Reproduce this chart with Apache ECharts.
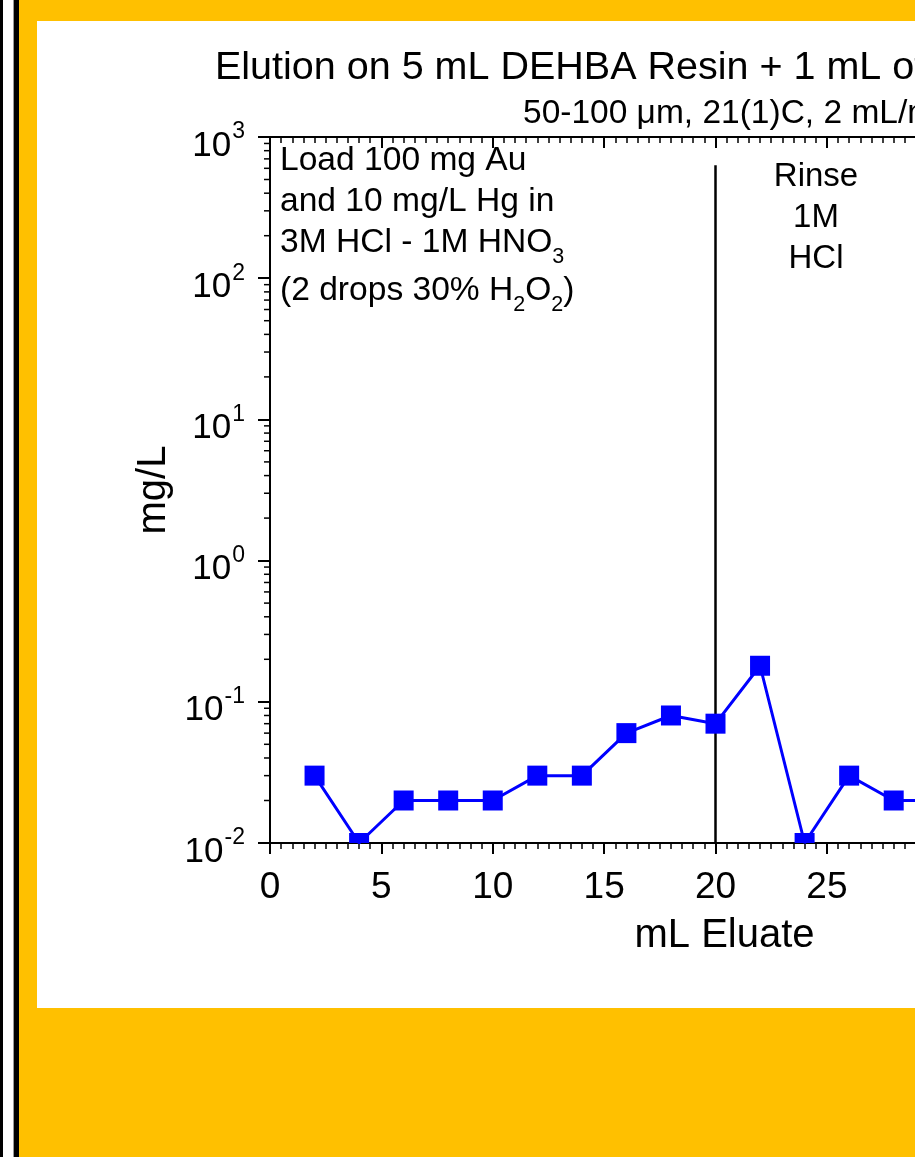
<!DOCTYPE html>
<html>
<head>
<meta charset="utf-8">
<script src="https://cdn.jsdelivr.net/npm/echarts@6/dist/echarts.min.js"></script>
<style>
html,body{margin:0;padding:0;overflow:hidden;background:#FFC000;width:915px;height:1157px;}
#c{width:1400px;height:1157px;}
</style>
</head>
<body>
<div id="c"></div>
<script>
// ---- data ----
const mlEluate = [2, 4, 6, 8, 10, 12, 14, 16, 18, 20, 22, 24, 26, 28, 30];
const hgMgL    = [0.03, 0.01, 0.02, 0.02, 0.02, 0.03, 0.03, 0.06, 0.08, 0.07, 0.18, 0.01, 0.03, 0.02, 0.02];
const dividerX = [20, 20];
const dividerY = [0.01, 630];
const titleText = 'Elution on 5 mL DEHBA Resin + 1 mL of Prefilter Resin';
const subtitleText = '50-100 \u03bcm, 21(1)C, 2 mL/min';
const xName = 'mL Eluate';
const yName = 'mg/L';
const loadLines = [
  '{n|Load 100 mg Au}',
  '{n|and 10 mg/L Hg in}',
  '{n|3M HCl - 1M HNO}{s|3}',
  '{n|(2 drops 30% H}{s|2}{n|O}{s|2}{n|)}'
];
const rinseText = 'Rinse\n1M\nHCl';

// minor tick values for log axis (2..9 per decade)
const minorVals = [];
for (let d = -2; d < 3; d++) for (let k = 2; k <= 9; k++) minorVals.push(k * Math.pow(10, d));

const FONT = "'Liberation Sans', Arial, sans-serif";
const chart = echarts.init(document.getElementById('c'), null, {renderer: 'canvas'});

const richSub = {
  n: {fontSize: 33.6, fontFamily: FONT, color: '#000', lineHeight: 36, verticalAlign: 'top'},
  s: {fontSize: 21.5, fontFamily: FONT, color: '#000', lineHeight: 21, padding: [20, 0, 0, 0], verticalAlign: 'top'}
};
const loadY = [162, 203, 244, 292];

const option = {
  backgroundColor: '#FFC000',
  animation: false,
  title: [
    {text: titleText, left: 210, top: 43,
     textStyle: {fontFamily: FONT, fontSize: 39.5, fontWeight: 'normal', color: '#000'}},
    {text: subtitleText, left: 518, top: 92,
     textStyle: {fontFamily: FONT, fontSize: 33.5, fontWeight: 'normal', color: '#000'}}
  ],
  grid: {left: 270, top: 137, width: 891, height: 706, containLabel: false},
  xAxis: [
    {type: 'value', min: 0, max: 40, interval: 5, position: 'bottom',
     name: xName, nameLocation: 'middle', nameGap: 73,
     nameTextStyle: {fontFamily: FONT, fontSize: 40, color: '#000', padding: [0, 0, 0, 18]},
     axisLine: {show: true, onZero: false, lineStyle: {color: '#000', width: 2}},
     axisTick: {show: true, inside: false, length: 11, lineStyle: {color: '#000', width: 2}},
     minorTick: {show: true, splitNumber: 10, length: 6, lineStyle: {color: '#000', width: 1.5}},
     axisLabel: {fontFamily: FONT, fontSize: 37, color: '#000', margin: 26},
     splitLine: {show: false}},
    {type: 'value', min: 0, max: 40, interval: 5, position: 'top',
     axisLine: {show: true, onZero: false, lineStyle: {color: '#000', width: 2}},
     axisTick: {show: true, inside: true, length: 11, lineStyle: {color: '#000', width: 2}},
     minorTick: {show: true, splitNumber: 10, length: 6, lineStyle: {color: '#000', width: 1.5}},
     axisLabel: {show: false}, splitLine: {show: false}}
  ],
  yAxis: [
    {type: 'log', logBase: 10, min: 0.01, max: 1000, position: 'left',
     name: yName, nameLocation: 'middle', nameGap: 94, nameRotate: 90,
     nameTextStyle: {fontFamily: FONT, fontSize: 40, color: '#000'},
     axisLine: {show: true, onZero: false, lineStyle: {color: '#000', width: 2}},
     axisTick: {show: true, inside: false, length: 12, lineStyle: {color: '#000', width: 2}},
     splitLine: {show: false},
     axisLabel: {margin: 25,
       formatter: function (v) {
         const e = Math.round(Math.log10(v));
         return '{b|10}{s|' + e + '}';
       },
       rich: {
         b: {fontSize: 35, fontFamily: FONT, color: '#000', lineHeight: 35, padding: [9, 0, 0, 0], verticalAlign: 'top'},
         s: {fontSize: 23, fontFamily: FONT, color: '#000', lineHeight: 23, padding: [1, 0, 0, 1], verticalAlign: 'top'}
       }}}
  ],
  series: [
    {type: 'custom', name: 'yMinor', coordinateSystem: 'cartesian2d', clip: false, silent: true,
     data: minorVals.map(v => [0, v]),
     renderItem: function (params, api) {
       const p = api.coord([api.value(0), api.value(1)]);
       return {type: 'line', shape: {x1: p[0] - 6, y1: p[1], x2: p[0], y2: p[1]},
               style: {stroke: '#000', lineWidth: 1.5}};
     }},
    {type: 'line', name: 'divider', data: dividerX.map((x, i) => [x, dividerY[i]]),
     symbol: 'none', silent: true, clip: true,
     lineStyle: {color: '#000', width: 2.5}},
    {type: 'line', name: 'Hg', data: mlEluate.map((x, i) => [x, hgMgL[i]]),
     symbol: 'none', clip: true, lineStyle: {color: '#0000FF', width: 3}},
    {type: 'custom', name: 'HgMarkers', coordinateSystem: 'cartesian2d', clip: true,
     data: mlEluate.map((x, i) => [x, hgMgL[i]]),
     renderItem: function (params, api) {
       const p = api.coord([api.value(0), api.value(1)]);
       const s = 20;
       return {type: 'rect', shape: {x: p[0] - s / 2, y: p[1] - s / 2, width: s, height: s},
               style: {fill: '#0000FF'}};
     }, z: 5}
  ],
  graphic: [
    {type: 'rect', z: -100, silent: true, shape: {x: 37, y: 21, width: 1400, height: 987}, style: {fill: '#FFFFFF'}},
    {type: 'rect', z: -100, silent: true, shape: {x: 0, y: 0, width: 3, height: 1157}, style: {fill: '#000'}},
    {type: 'rect', z: -100, silent: true, shape: {x: 3, y: 0, width: 10, height: 1157}, style: {fill: '#FFFFFF'}},
    {type: 'rect', z: -100, silent: true, shape: {x: 13, y: 0, width: 1, height: 1157}, style: {fill: '#999999'}},
    {type: 'rect', z: -100, silent: true, shape: {x: 14, y: 0, width: 5, height: 1157}, style: {fill: '#000'}}
  ].concat(loadLines.map((t, i) => ({
      type: 'text', z: 100, silent: true, left: 280, top: loadY[i] - 18,
      style: {text: t, rich: richSub, fontFamily: FONT, fontSize: 33.6, fill: '#000'}
    }))).concat([
    {type: 'text', z: 100, silent: true, x: 816, y: 156,
     style: {text: rinseText, fontFamily: FONT, fontSize: 33, lineHeight: 41, fill: '#000', align: 'center', verticalAlign: 'top'}}
  ])
};
chart.setOption(option);
</script>
</body>
</html>
